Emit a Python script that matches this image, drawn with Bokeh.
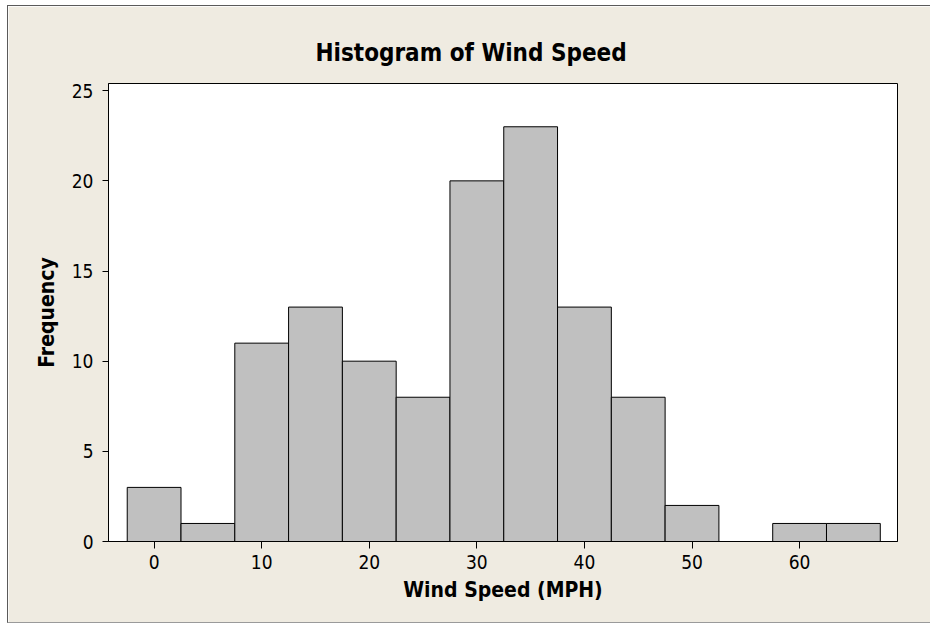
from bokeh.plotting import figure
from bokeh.models import Range1d, FixedTicker
from bokeh.embed import file_html
from bokeh.resources import INLINE

# Data
bin_centers = [0, 5, 10, 15, 20, 25, 30, 35, 40, 45, 50, 55, 60, 65]
counts = [3, 1, 11, 13, 10, 8, 20, 23, 13, 8, 2, 0, 1, 1]
bin_width = 5
x_ticks = [0, 10, 20, 30, 40, 50, 60]
y_ticks = [0, 5, 10, 15, 20, 25]

BG = "#EFEBE1"
FONT = "DejaVu Sans Condensed"

p = figure(width=923, height=618, output_backend="svg", toolbar_location=None,
           x_range=Range1d(-4.24, 69.1), y_range=Range1d(0, 25.4),
           min_border_left=100, min_border_right=34, min_border_top=77, min_border_bottom=83,
           title="Histogram of Wind Speed")

p.styles = {"margin-left": "7px", "margin-top": "5px",
            "border-left": "1px solid #5a5a5a", "border-top": "1px solid #5a5a5a",
            "border-bottom": "1px solid #9a9a9a"}

p.background_fill_color = "white"
p.border_fill_color = BG
p.outline_line_color = "black"
p.outline_line_width = 1
p.grid.visible = False

lefts = [c - bin_width / 2 for c in bin_centers]
rights = [c + bin_width / 2 for c in bin_centers]
p.quad(left=lefts, right=rights, top=counts, bottom=0,
       fill_color="#C0C0C0", line_color="black", line_width=1)

p.title.text_font = FONT
p.title.text_font_size = "24px"
p.title.text_font_style = "bold"
p.title.align = "left"
p.title.offset = 207
p.title.standoff = 33
p.title.text_color = "black"

for ax in (p.xaxis[0], p.yaxis[0]):
    ax.axis_line_color = "black"
    ax.major_tick_line_color = "black"
    ax.major_tick_in = 0
    ax.minor_tick_line_color = None
    ax.major_label_text_font = FONT
    ax.major_label_text_font_size = "19px"
    ax.major_label_text_color = "black"
    ax.axis_label_text_font = FONT
    ax.axis_label_text_font_size = "21px"
    ax.axis_label_text_font_style = "bold"
    ax.axis_label_text_color = "black"

p.xaxis.ticker = FixedTicker(ticks=x_ticks)
p.yaxis.ticker = FixedTicker(ticks=y_ticks)
p.xaxis.major_tick_out = 7
p.yaxis.major_tick_out = 6
p.xaxis.major_label_standoff = 6
p.yaxis.major_label_standoff = 9
p.xaxis.axis_label = "Wind Speed (MPH)"
p.yaxis.axis_label = "Frequency"
p.xaxis.axis_label_standoff = 6
p.yaxis.axis_label_standoff = 10

open("out.html", "w").write(file_html(p, INLINE))
